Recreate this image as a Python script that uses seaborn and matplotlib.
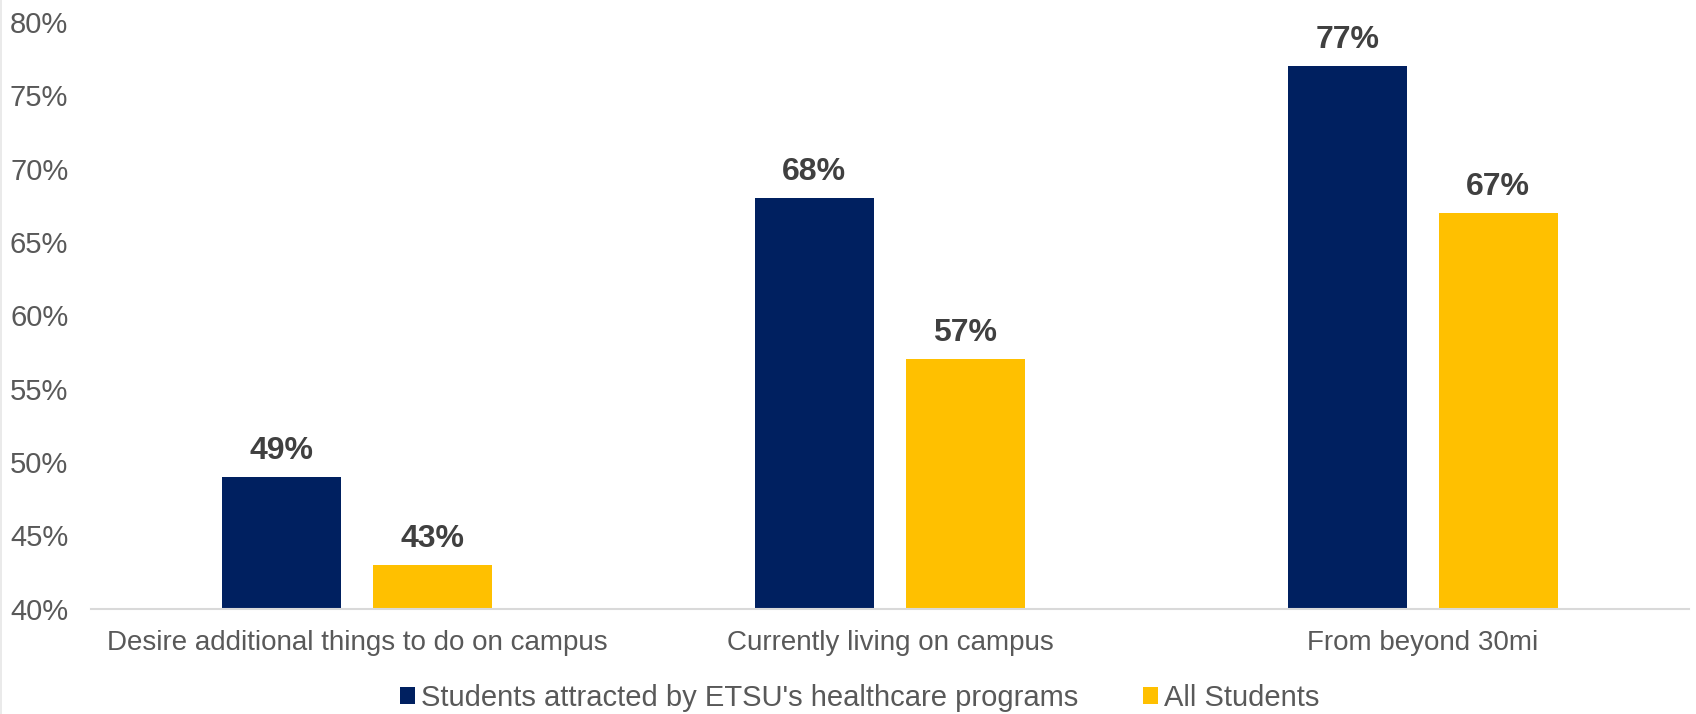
import matplotlib
matplotlib.use("Agg")
import matplotlib.pyplot as plt
import seaborn as sns
import pandas as pd
from matplotlib.patches import Patch
from matplotlib.lines import Line2D

categories = ["Desire additional things to do on campus",
              "Currently living on campus",
              "From beyond 30mi"]
series_names = ["Students attracted by ETSU's healthcare programs", "All Students"]
healthcare_vals = [49, 68, 77]
all_vals = [43, 57, 67]
y_ticks = [40, 45, 50, 55, 60, 65, 70, 75, 80]

colors = ["#002060", "#FFC000"]

df = pd.DataFrame({
    "category": categories * 2,
    "group": [series_names[0]] * 3 + [series_names[1]] * 3,
    "value": healthcare_vals + all_vals,
})

sns.set_theme(style="white")
plt.rcParams["font.family"] = ["Liberation Sans", "DejaVu Sans"]

fig = plt.figure(figsize=(16.96, 7.14), dpi=100)
ax = fig.add_axes([0.0534, 0.1475, 0.9426, 0.8215])

sns.barplot(data=df, x="category", y="value", hue="group",
            palette=colors, width=0.567, gap=0.21, ax=ax,
            legend=False, saturation=1, linewidth=0)

ax.set_ylim(40, 80)
ax.set_xlim(-0.5, 2.5)
ax.set_yticks(y_ticks)
ax.set_yticklabels([f"{t}%" for t in y_ticks])
ax.set_xlabel("")
ax.set_ylabel("")
ax.tick_params(axis="both", length=0, labelcolor="#595959")
ax.tick_params(axis="y", pad=16, labelsize=21)
ax.tick_params(axis="x", pad=15, labelsize=20)

for s in ["left", "right", "top"]:
    ax.spines[s].set_visible(False)
ax.spines["bottom"].set_color("#D9D9D9")
ax.spines["bottom"].set_linewidth(1.5)

for container in ax.containers:
    ax.bar_label(container, labels=[f"{v:.0f}%" for v in container.datavalues],
                 padding=8, fontsize=23, fontweight="bold", color="#404040")

handles = [Patch(facecolor=c, edgecolor="none") for c in colors]
fig.legend(handles, series_names, loc="center", bbox_to_anchor=(0.507, 0.022),
           ncol=2, frameon=False, fontsize=21, labelcolor="#595959",
           handlelength=0.52, handleheight=0.52, handletextpad=0.22,
           columnspacing=2.2)

# thin slide border on the left edge
fig.add_artist(Line2D([0.0008, 0.0008], [0, 1], transform=fig.transFigure,
                      color="#E6E6E6", linewidth=1.2))

fig.savefig("out.png", dpi=100, facecolor="white")
